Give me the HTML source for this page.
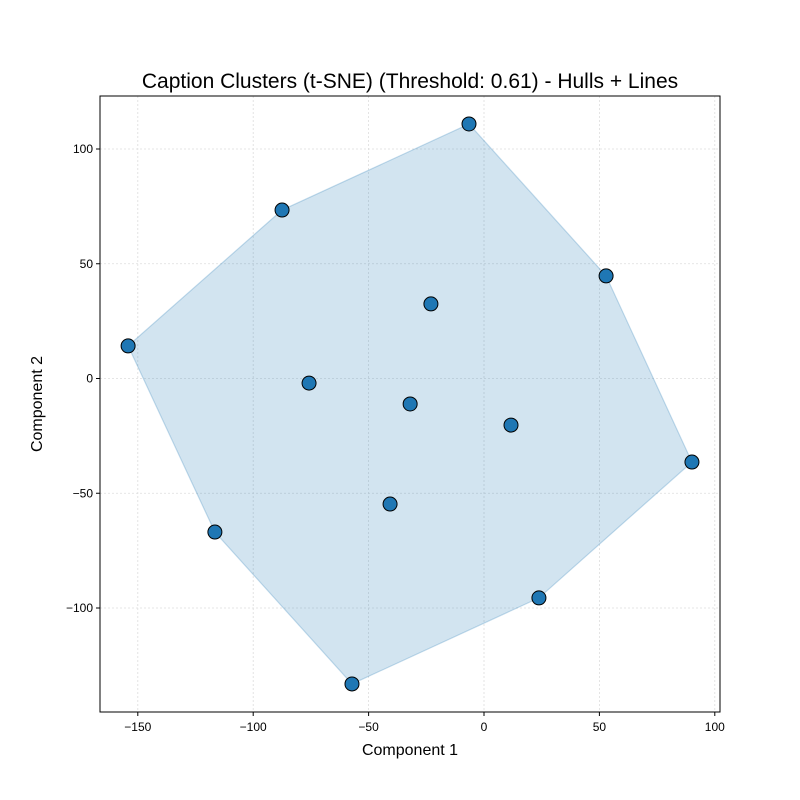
<!DOCTYPE html>
<html><head><meta charset="utf-8"><style>
body{margin:0;background:#fff}
svg{display:block;font-family:"Liberation Sans","DejaVu Sans",sans-serif}
</style></head><body>
<svg id="c" width="800" height="800"></svg>
<script>
const xs=[-6.5,-87.5,-154.2,52.9,-23,-75.8,-32,11.7,90.1,-40.7,-116.6,23.8,-57.2];
const ys=[110.9,73.4,14.2,44.7,32.5,-2,-11.1,-20.3,-36.4,-54.7,-66.9,-95.6,-133.1];
const xTicks=[-150,-100,-50,0,50,100];
const yTicks=[-100,-50,0,50,100];
const L=100,R=720,T=96,B=712;
const X=v=>484+v*2.308;
const Y=v=>378.5-v*2.295;
const NS='http://www.w3.org/2000/svg';
const svg=document.getElementById('c');
function mk(t,a,p){const e=document.createElementNS(NS,t);for(const k in a)e.setAttribute(k,a[k]);(p||svg).appendChild(e);return e;}
// title
let t=mk('text',{x:410,y:88,'text-anchor':'middle','font-size':21});
t.textContent='Caption Clusters (t-SNE) (Threshold: 0.61) - Hulls + Lines';


// grid and ticks
xTicks.forEach(v=>{
  const g=mk('line',{x1:X(v),x2:X(v),y1:T,y2:B,stroke:'#ddd','stroke-width':0.8,'stroke-dasharray':'2,2'});
  
  
  mk('line',{x1:X(v),x2:X(v),y1:B,y2:B+4,stroke:'#000'});
  const l=mk('text',{x:X(v),y:B+19,'text-anchor':'middle','font-size':12});
  l.textContent=v<0?'\u2212'+(-v):v;
  
  
});
yTicks.forEach(v=>{
  const g=mk('line',{x1:L,x2:R,y1:Y(v),y2:Y(v),stroke:'#ddd','stroke-width':0.8,'stroke-dasharray':'2,2'});
  
  
  mk('line',{x1:L-4,x2:L,y1:Y(v),y2:Y(v),stroke:'#000'});
  const l=mk('text',{x:L-7,y:Y(v)+4,'text-anchor':'end','font-size':12});
  l.textContent=v<0?'\u2212'+(-v):v;
  
  
});
// hull
const pts=xs.map((x,i)=>[x,ys[i]]).sort((a,b)=>a[0]-b[0]||a[1]-b[1]);
const cr=(o,a,b)=>(a[0]-o[0])*(b[1]-o[1])-(a[1]-o[1])*(b[0]-o[0]);
const lo=[],up=[];
for(const p of pts){while(lo.length>=2&&cr(lo[lo.length-2],lo[lo.length-1],p)<=0)lo.pop();lo.push(p);}
for(const p of pts.slice().reverse()){while(up.length>=2&&cr(up[up.length-2],up[up.length-1],p)<=0)up.pop();up.push(p);}
const hull=lo.slice(0,-1).concat(up.slice(0,-1));
const hp=mk('polygon',{points:hull.map(p=>X(p[0])+','+Y(p[1])).join(' '),fill:'rgba(31,119,180,0.2)',stroke:'rgba(31,119,180,0.25)','stroke-width':1.2});


// points
xs.forEach((x,i)=>{
  const c=mk('circle',{cx:X(x),cy:Y(ys[i]),r:7,fill:'#1f77b4',stroke:'#000','stroke-width':1});
  
  
});
// frame
const f=mk('rect',{x:L,y:T,width:R-L,height:B-T,fill:'none',stroke:'#000','stroke-width':1});


const xl=mk('text',{x:410,y:755,'text-anchor':'middle','font-size':16});
xl.textContent='Component 1';


const yl=mk('text',{x:42,y:404,'text-anchor':'middle','font-size':16,transform:'rotate(-90 42 404)'});
yl.textContent='Component 2';


</script>
</body></html>
